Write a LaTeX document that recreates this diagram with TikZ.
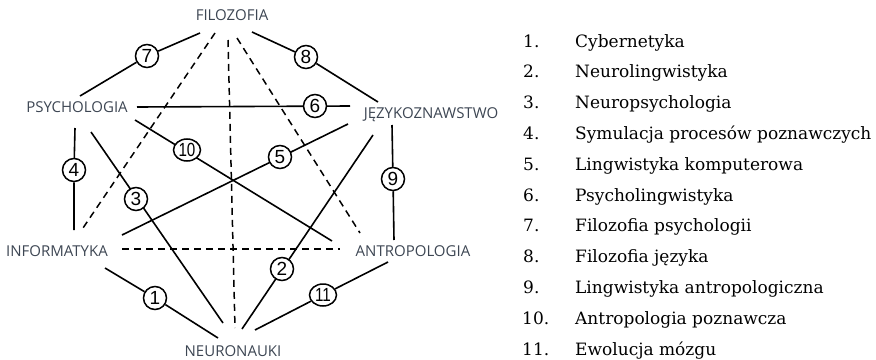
\documentclass[tikz,border=0pt]{standalone}
\usepackage{fontspec}
\usepackage{graphicx}
\usetikzlibrary{shapes.geometric}
\newfontfamily\labfont{Open Sans}
\newfontfamily\legfont{DejaVu Serif}
\newfontfamily\numfont{Liberation Sans}
\definecolor{labcol}{HTML}{3D4653}
\begin{document}
\begin{tikzpicture}[x=1pt,y=-1pt,
  field/.style={font=\labfont\fontsize{15}{17}\selectfont, text=labcol, inner sep=0pt},
  num/.style={circle, draw=black, line width=1.5pt, fill=white, minimum size=23pt, inner sep=0pt, font=\numfont\fontsize{19}{20}\selectfont},
  numwide/.style={ellipse, draw=black, line width=1.5pt, fill=white, minimum width=27pt, minimum height=22pt, inner sep=0pt, font=\numfont\fontsize{19}{20}\selectfont},
  link/.style={line width=1.6pt, black},
  dlink/.style={line width=1.5pt, black, dash pattern=on 7pt off 5pt},
  legnum/.style={anchor=base west, inner sep=0pt, font=\legfont\fontsize{17}{19}\selectfont},
  legtxt/.style={anchor=base west, inner sep=0pt, font=\legfont\fontsize{17}{19}\selectfont}]
\useasboundingbox (0,0) rectangle (876,359);
% field labels
\node[field] (fil) at (232,15) {FILOZOFIA};
\node[field] (psy) at (77,107) {PSYCHOLOGIA};
\node[field] (jez) at (431,115) {JĘZYKOZNAWSTWO};
\node[field] (inf) at (57,251) {INFORMATYKA};
\node[field] (ant) at (413,251) {ANTROPOLOGIA};
\node[field] (neu) at (233,351) {NEURONAUKI};
% end points
\coordinate (f7) at (200,33);  \coordinate (p7) at (80,96);
\coordinate (f8) at (252,32);  \coordinate (j8) at (378,102);
\coordinate (fI) at (215,33);  \coordinate (iF) at (83,228);
\coordinate (fN) at (228,40);  \coordinate (nF) at (235,328);
\coordinate (fA) at (237,38);  \coordinate (aF) at (360,233);
\coordinate (p6) at (137,107); \coordinate (j6) at (350,106);
\coordinate (p10) at (135,120); \coordinate (a10) at (332,241);
\coordinate (p4) at (75,128);  \coordinate (i4) at (74,230);
\coordinate (p3) at (91,132);  \coordinate (n3) at (223,323);
\coordinate (j5) at (348,124); \coordinate (i5) at (122,235);
\coordinate (j2) at (373,135); \coordinate (n2) at (242,329);
\coordinate (j9) at (392,125); \coordinate (a9) at (394,240);
\coordinate (iA) at (122,249); \coordinate (aI) at (340,249);
\coordinate (i1) at (105,268); \coordinate (n1) at (218,338);
\coordinate (a11) at (388,262); \coordinate (n11) at (255,330);
% dashed links
\draw[dlink] (fI) -- (iF);
\draw[dlink] (fN) -- (nF);
\draw[dlink] (fA) -- (aF);
\draw[dlink] (iA) -- (aI);
% links passing behind circles
\draw[link] (p10) -- (a10);
\draw[link] (j5) -- (i5);
\draw[link] (j2) -- (n2);
\draw[link] (p3) -- (n3);
\draw[link] (p6) -- (j6);
% circles
\node[num] (c1) at (155,298) {1};
\node[num] (c2) at (282,269) {2};
\node[num] (c3) at (136,199) {3};
\node[num] (c4) at (74,170) {4};
\node[num] (c5) at (280,157) {5};
\node[num] (c6) at (315,106) {6};
\node[num] (c7) at (147,56) {7};
\node[num] (c8) at (306,57) {8};
\node[num] (c9) at (393,179) {9};
\node[numwide] (c10) at (187,150) {\scalebox{0.8}[1]{10}};
\node[numwide] (c11) at (323,295) {\scalebox{0.8}[1]{11}};
\draw[link] (f7) -- (c7) -- (p7);
\draw[link] (f8) -- (c8) -- (j8);
\draw[link] (p4) -- (c4) -- (i4);
\draw[link] (j9) -- (c9) -- (a9);
\draw[link] (i1) -- (c1) -- (n1);
\draw[link] (a11) -- (c11) -- (n11);
% legend
\foreach \k/\t [count=\i from 0] in {1/Cybernetyka, 2/Neurolingwistyka, 3/Neuropsychologia, 4/Symulacja procesów poznawczych, 5/Lingwistyka komputerowa, 6/Psycholingwistyka, 7/Filozofia psychologii, 8/Filozofia języka, 9/Lingwistyka antropologiczna, 10/Antropologia poznawcza, 11/Ewolucja mózgu}{
  \node[legnum] (ln\k) at ({\k<10 ? 523 : 522}, 47+30.8*\i) {\k.};
  \node[legtxt] (lt\k) at (575, 47+30.8*\i) {\t};
}
\end{tikzpicture}
\end{document}
